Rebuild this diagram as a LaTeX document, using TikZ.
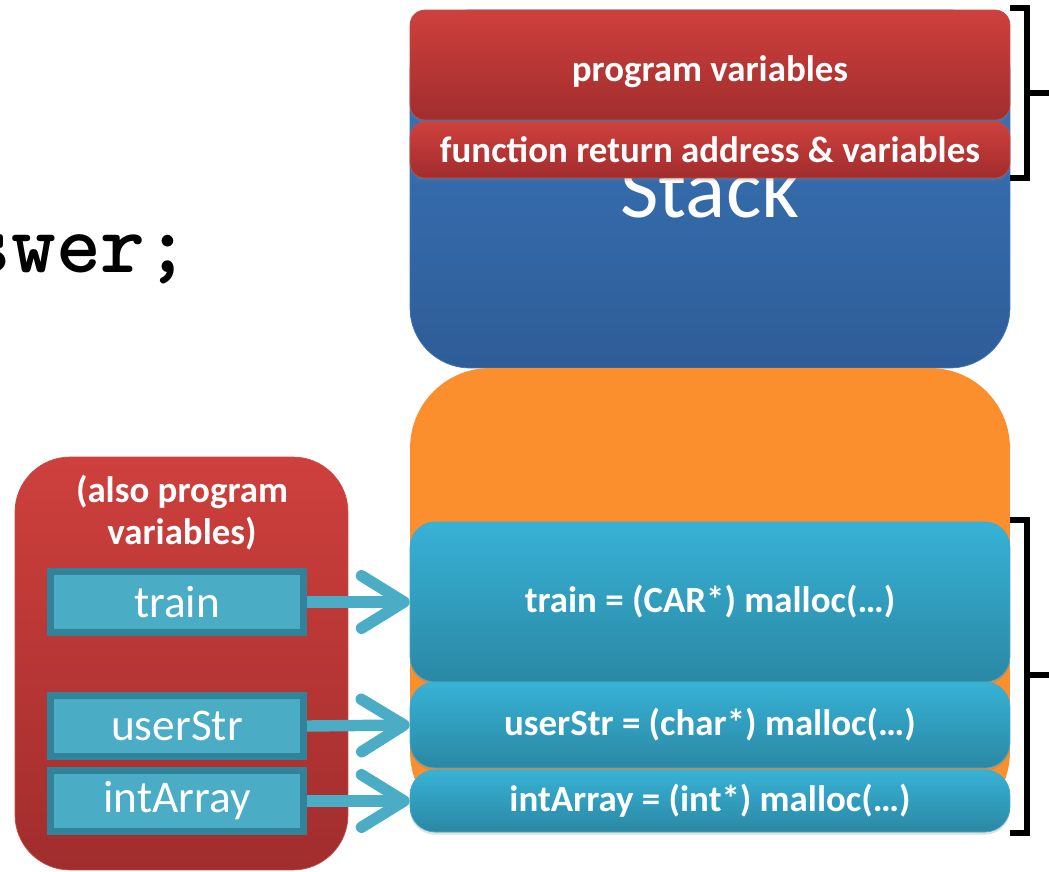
\documentclass[tikz,border=0pt]{standalone}
\usepackage{fontspec}
\setmainfont{Carlito}
\usetikzlibrary{arrows.meta,shadows}

\definecolor{stacktop}{HTML}{3B77BC}
\definecolor{stackbot}{HTML}{2E5D98}
\definecolor{redtop}{HTML}{CE403D}
\definecolor{redbot}{HTML}{A12D2D}
\definecolor{redline}{HTML}{C44A47}
\definecolor{heaporange}{HTML}{FC8F2D}
\definecolor{cyantop}{HTML}{37B2D6}
\definecolor{cyanbot}{HTML}{2A88A4}
\definecolor{cyanline}{HTML}{45A9C6}
\definecolor{varfill}{HTML}{4BACC6}
\definecolor{vardark}{HTML}{31839A}

\begin{document}
\begin{tikzpicture}[
    x=0.02cm, y=-0.02cm,
    label/.style={text=white, font=\bfseries\fontsize{21}{24}\selectfont},
    seg/.style={label, draw=redline, top color=redtop, bottom color=redbot,
                rounded corners=0.3cm, minimum width=12cm, inner sep=0pt,
                drop shadow={opacity=0.25, shadow xshift=0pt, shadow yshift=-1.5pt}},
    blk/.style={label, draw=cyanline, top color=cyantop, bottom color=cyanbot,
                rounded corners=0.5cm, minimum width=12cm, inner sep=0pt,
                drop shadow={opacity=0.25, shadow xshift=0pt, shadow yshift=-1.5pt}},
    varbox/.style={draw=vardark, line width=4pt, fill=varfill, text=white,
                   minimum width=5.06cm, minimum height=1.22cm, inner sep=0pt,
                   font=\fontsize{25.8}{28}\selectfont},
    ptr/.style={-{Straight Barb[length=0.85cm, width=1.05cm, round]},
                line width=6.5pt, varfill},
    brk/.style={line width=3.2pt},
  ]
    \useasboundingbox (0,0) rectangle (1049,872);

    % memory column
    \node[draw=stacktop, top color=stacktop, bottom color=stackbot,
          rounded corners=1.2cm, minimum width=12cm, minimum height=7.16cm,
          text=white, font=\fontsize{47.6}{50}\selectfont] (stack) at (710,189) {Stack};
    \node[seg, minimum height=2.2cm, text height=22pt] (progvars) at (710,65) {program variables};
    \node[seg, minimum height=1.12cm] (funcvars) at (710,150) {function return address \& variables};

    \node[fill=heaporange, rounded corners=1.6cm, minimum width=12cm,
          minimum height=9.28cm] (heap) at (710,600) {};
    \node[blk, minimum height=3.2cm]  (htrain) at (710,602) {train = (CAR*) malloc(…)};
    \node[blk, minimum height=1.72cm] (hstr)   at (710,725) {userStr = (char*) malloc(…)};
    \node[blk, minimum height=1.24cm] (harr)   at (710,801) {intArray = (int*) malloc(…)};

    % pointers
    \node[draw=redline, top color=redtop, bottom color=redbot, rounded corners=1.1cm,
          minimum width=6.66cm, minimum height=8.26cm] (ptrs) at (181.5,663.5) {};
    \node[label, align=center] (ptrtitle) at (182,513) {(also program\\variables)};
    \node[varbox] (vtrain) at (177,602) {train};
    \node[varbox] (vstr)   at (177,726) {userStr};
    \node[varbox] (varr)   at (177,801) {intArray};

    \draw[ptr] (vtrain.east) -- (htrain.west);
    \draw[ptr] (vstr.east)   -- (hstr.west);
    \draw[ptr] (varr.east)   -- (harr.west);

    % brackets
    \draw[brk] (1010,8) -- (1027,8) -- (1027,178) -- (1010,178);
    \draw[brk] (1027,93) -- (1049,93);
    \draw[brk] (1010,520) -- (1027,520) -- (1027,833) -- (1010,833);
    \draw[brk] (1027,675) -- (1049,675);

    \node[anchor=base west, inner sep=0pt,
          font=\ttfamily\bfseries\fontsize{48.6}{50}\selectfont] (code) at (-34,272) {swer;};
\end{tikzpicture}
\end{document}
